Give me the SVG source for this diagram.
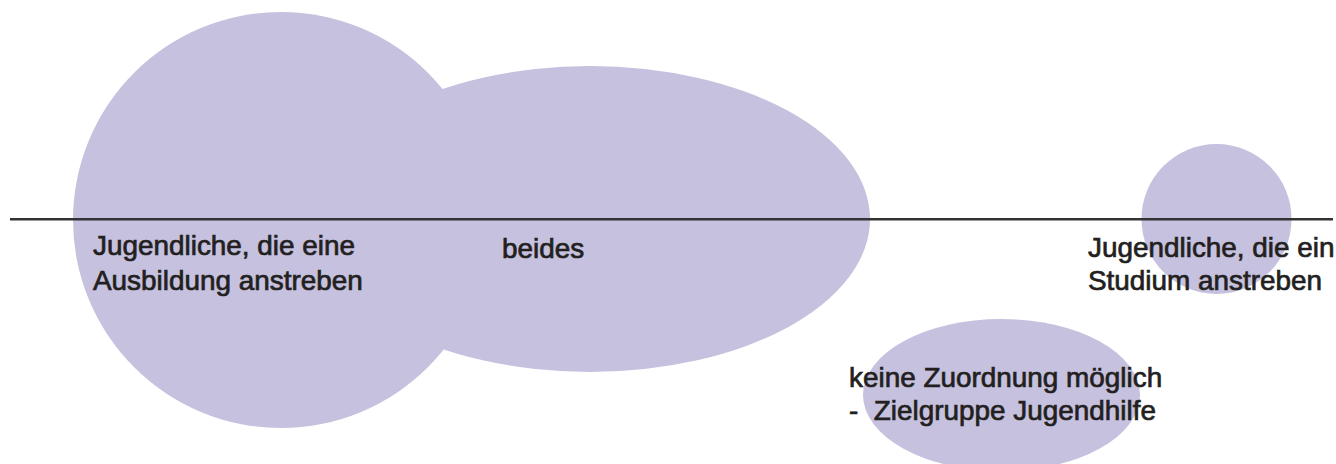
<svg xmlns="http://www.w3.org/2000/svg" width="1336" height="464" viewBox="0 0 1336 464">
  <style>
    .blob { fill: #c5c1de; }
    .axis { stroke: #333333; stroke-width: 2.5; fill: none; }
    .lbl { font-family: "Liberation Sans", Arial, Helvetica, sans-serif; font-size: 27.9px; fill: #231f20; stroke: #231f20; stroke-width: 0.7; }
  </style>
  <rect width="1336" height="464" fill="#ffffff"/>

  <!-- shapes -->
  <g id="ausbildung">
    <circle class="blob" cx="281" cy="220" r="208"/>
  </g>
  <g id="beides">
    <ellipse class="blob" cx="590" cy="219" rx="280" ry="153"/>
  </g>
  <g id="studium">
    <circle class="blob" cx="1216.5" cy="219" r="75"/>
  </g>
  <g id="keine-zuordnung">
    <ellipse class="blob" cx="1001.5" cy="395" rx="138.5" ry="76"/>
  </g>

  <!-- axis -->
  <g id="connectors">
    <line class="axis" x1="10" y1="219.3" x2="1333" y2="219.3"/>
  </g>

  <!-- labels -->
  <g id="labels">
    <text class="lbl" x="93" y="255">Jugendliche, die eine</text>
    <text class="lbl" x="93" y="290">Ausbildung anstreben</text>
    <text class="lbl" x="502" y="258">beides</text>
    <text class="lbl" x="1088" y="256.5">Jugendliche, die ein</text>
    <text class="lbl" x="1088" y="290">Studium anstreben</text>
    <text class="lbl" x="849" y="387">keine Zuordnung möglich</text>
    <text class="lbl" x="849" y="420" xml:space="preserve">-  Zielgruppe Jugendhilfe</text>
  </g>
</svg>
